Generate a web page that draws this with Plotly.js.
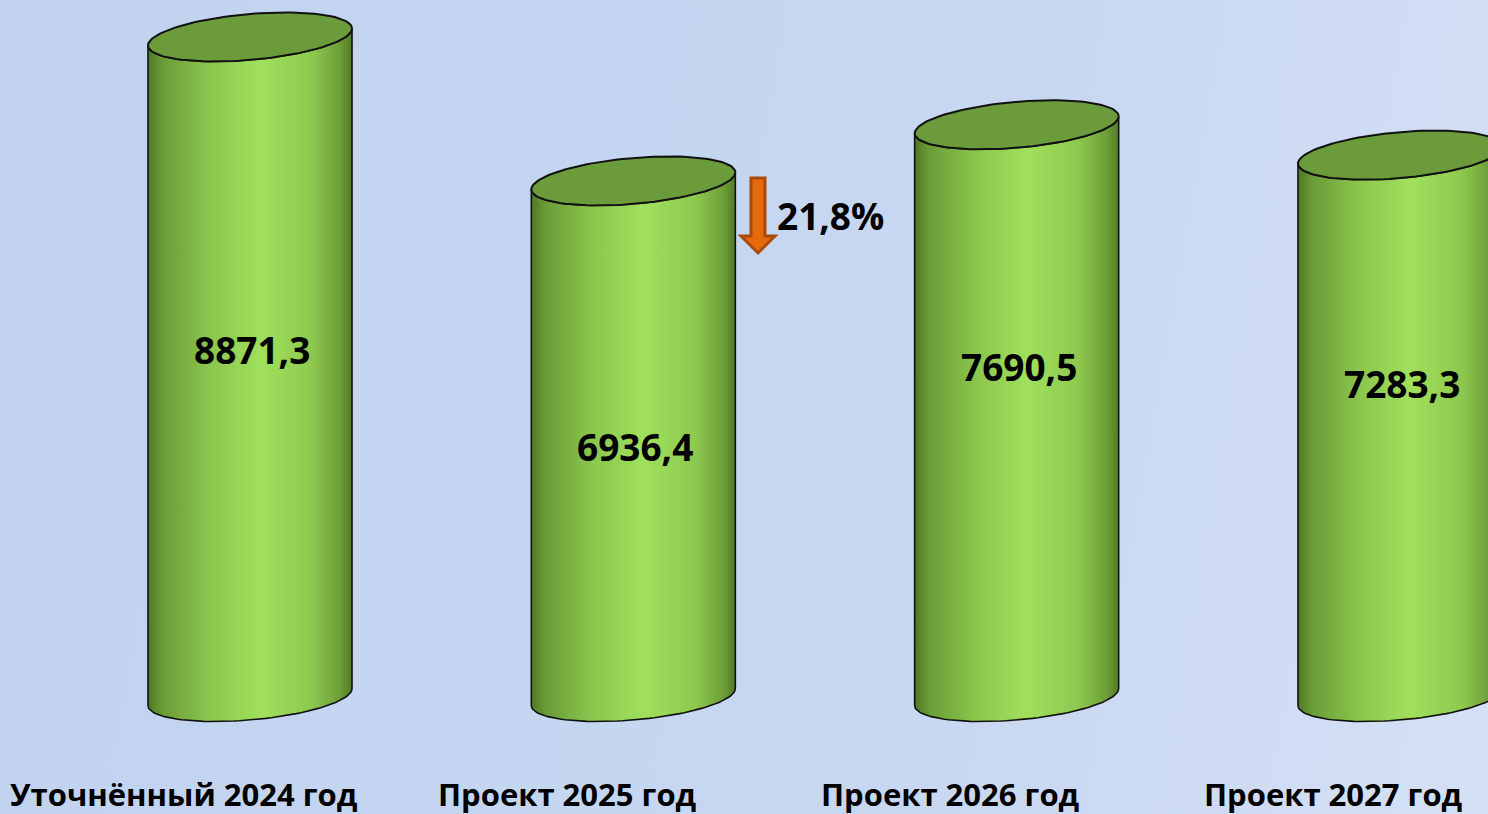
<!DOCTYPE html>
<html>
<head>
<meta charset="utf-8">
<script src="https://cdn.plot.ly/plotly-3.0.1.min.js"></script>
<style>
  html, body { margin: 0; padding: 0; width: 1488px; height: 814px; overflow: hidden; }
  body { background: linear-gradient(100deg, #c1d2ef 0%, #c5d6f1 45%, #cbd9f2 75%, #d4e0f4 100%); }
  #chart { width: 1488px; height: 814px; }
</style>
</head>
<body>
<div id="chart"></div>
<script>
// ---- data ----
const categories = ["Уточнённый 2024 год", "Проект 2025 год", "Проект 2026 год", "Проект 2027 год"];
const values = [8871.3, 6936.4, 7690.5, 7283.3];

// ---- style / geometry (pixels) ----
const W = 1488, H = 814;
const px0 = 250, pxStep = 383.33, basePx = 697, pxPerUnit = 0.0744;
const radA = 102, radB = 23, shear = 8.5;        // ellipse half-width, half-height, tilt
const labelFrac = [0.526, 0.486, 0.577, 0.578];  // where value labels sit inside bars

const xr = [(0 - px0) / pxStep, (W - px0) / pxStep];
const yr = [-(H - basePx) / pxPerUnit, basePx / pxPerUnit];
const dx = p => p / pxStep;
const dy = p => p / pxPerUnit;

function ell(cx, cy, t0, t1, n) {
  const xs = [], ys = [];
  for (let k = 0; k <= n; k++) {
    const t = t0 + (t1 - t0) * k / n;
    xs.push(cx + dx(radA) * Math.cos(t));
    ys.push(cy + dy(shear) * Math.cos(t) - dy(radB) * Math.sin(t));
  }
  return [xs, ys];
}

const fmt = v => v.toFixed(1).replace('.', ',');

const traces = [];
values.forEach((v, i) => {
  const [tx, ty] = ell(i, v, Math.PI, 0, 60);
  const [bx, by] = ell(i, 0, 0, Math.PI, 60);
  traces.push({
    type: 'scatter', mode: 'lines',
    x: tx.concat(bx, [tx[0]]), y: ty.concat(by, [ty[0]]),
    fill: 'toself',
    fillgradient: {
      type: 'horizontal',
      colorscale: [[0, '#4f7824'], [0.07, '#6a9c37'], [0.3, '#8bc64d'], [0.55, '#a0e05c'],
                   [0.8, '#8ec94f'], [0.94, '#6e9f39'], [1, '#527b25']]
    },
    line: { color: '#111', width: 1.6 },
    hoverinfo: 'skip'
  });
  const [ex, ey] = ell(i, v, 0, 2 * Math.PI, 120);
  traces.push({
    type: 'scatter', mode: 'lines', x: ex, y: ey,
    fill: 'toself', fillcolor: '#6b9b3b',
    line: { color: '#111', width: 2 },
    hoverinfo: 'skip'
  });
});

const annotations = [];
values.forEach((v, i) => {
  annotations.push({
    x: i, y: v * labelFrac[i], xref: 'x', yref: 'y', showarrow: false, xshift: 2,
    text: '<b>' + fmt(v) + '</b>',
    font: { family: 'Open Sans', size: 37, color: '#000' }
  });
  annotations.push({
    x: i, y: (H - 794) / H, xref: 'x', yref: 'paper', xshift: -66, yanchor: 'middle',
    showarrow: false, text: '<b>' + categories[i] + '</b>',
    font: { family: 'Open Sans', size: 31, color: '#000' }
  });
});

// percent change between first two years
const pct = ((1 - values[1] / values[0]) * 100);
annotations.push({
  x: 775 / W, y: 1 - 216 / H, xref: 'paper', yref: 'paper', xanchor: 'left', yanchor: 'middle',
  showarrow: false, text: '<b>' + fmt(pct) + '%</b>',
  font: { family: 'Open Sans', size: 37, color: '#000' }
});

const P = (x, y) => (x / W).toFixed(5) + ',' + (1 - y / H).toFixed(5);
const arrowPath = 'M' + P(751, 178) + ' L' + P(765, 178) + ' L' + P(765, 236) + ' L' + P(775, 236) +
  ' L' + P(758, 253) + ' L' + P(741, 236) + ' L' + P(751, 236) + ' Z';
const shapes = [{
  type: 'path', xref: 'paper', yref: 'paper', path: arrowPath,
  fillcolor: '#e46a0c', line: { color: '#a84a0c', width: 3 }
}];

const layout = {
  width: W, height: H,
  margin: { l: 0, r: 0, t: 0, b: 0 },
  paper_bgcolor: 'rgba(0,0,0,0)', plot_bgcolor: 'rgba(0,0,0,0)',
  showlegend: false,
  xaxis: { range: xr, visible: false, showgrid: false, zeroline: false, fixedrange: true },
  yaxis: { range: yr, visible: false, showgrid: false, zeroline: false, fixedrange: true },
  annotations: annotations,
  shapes: shapes
};

Plotly.newPlot('chart', traces, layout, { displayModeBar: false, staticPlot: true });
</script>
</body>
</html>
